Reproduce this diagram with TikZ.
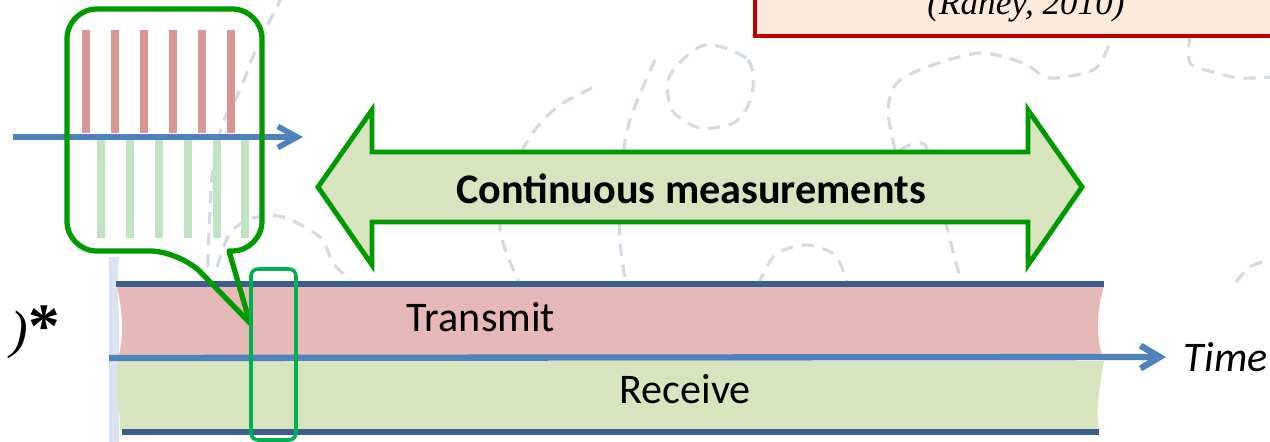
\documentclass[tikz,border=0pt]{standalone}
\usepackage{fontspec}
\setmainfont{Carlito}
\newfontfamily\refserif{Liberation Serif}
\usepackage{xcolor}
\usepackage{tikz}
\usetikzlibrary{arrows.meta}

\definecolor{bandblue}{HTML}{4F81BD}
\definecolor{edgeblue}{HTML}{3B5E8C}
\definecolor{txred}{HTML}{E6B8B7}
\definecolor{rxgreen}{HTML}{D7E4BD}
\definecolor{barred}{HTML}{D99694}
\definecolor{bargreen}{HTML}{C2E2C4}
\definecolor{callgreen}{HTML}{009A00}
\definecolor{boxgreen}{HTML}{00B050}
\definecolor{refred}{HTML}{C00000}
\definecolor{refpeach}{HTML}{FDEADA}
\definecolor{stripblue}{HTML}{DAE3EF}
\definecolor{dashgrey}{HTML}{D2DAE4}

\begin{document}
\begin{tikzpicture}[
  x=0.02cm, y=-0.02cm,
  lbl/.style={inner sep=0pt, font=\fontsize{24}{28}\selectfont},
  bold/.style={lbl, font=\fontsize{24}{28}\selectfont\bfseries},
  ref/.style={inner sep=0pt, font=\refserif\itshape\fontsize{20}{24}\selectfont},
  bgdash/.style={draw=dashgrey, line width=1.8pt, dash pattern=on 7pt off 5pt},
  edge/.style={draw=edgeblue, line width=3pt},
  tarr/.style={draw=bandblue, line width=3.6pt,
    -{Straight Barb[length=11pt, width=13pt]}},
  zarr/.style={draw=bandblue, line width=3.2pt,
    -{Straight Barb[length=11pt, width=12pt]}},
  rbar/.style={draw=barred, line width=4.6pt},
  gbar/.style={draw=bargreen, line width=4.6pt},
  dblarr/.style={draw=callgreen, fill=rxgreen, line width=2.8pt, miter limit=20},
  callout/.style={draw=callgreen, line width=3pt, line join=round},
  zoombox/.style={draw=boxgreen, line width=2pt, rounded corners=4pt}
]
\clip (0,0) rectangle (1270,442);

% faint background sketch
\draw[bgdash] plot[smooth] coordinates {(283,-5) (257,47) (240,90) (223,123) (213,167) (210,213) (208,267) (212,300)};
\draw[bgdash] plot[smooth] coordinates {(217,267) (230,233) (253,218) (283,217) (320,237) (333,263) (350,280)};
\draw[bgdash] plot[smooth cycle] coordinates {(705,45) (748,60) (752,95) (735,122) (700,128) (672,110) (670,75)};
\draw[bgdash] plot[smooth] coordinates {(895,150) (888,110) (897,83) (927,67) (980,53) (1023,63) (1050,78) (1093,70) (1107,50) (1113,30)};
\draw[bgdash] plot[smooth] coordinates {(1190,35) (1190,63) (1213,72) (1240,78) (1272,77)};
\draw[bgdash] plot[smooth] coordinates {(592,88) (560,105) (535,130) (510,175) (500,230) (520,285)};
\draw[bgdash] plot[smooth] coordinates {(655,60) (630,120) (620,180) (620,240) (626,285)};
\draw[bgdash] plot[smooth] coordinates {(758,285) (775,255) (805,245) (835,255) (848,285)};
\draw[bgdash] plot[smooth] coordinates {(900,150) (925,145) (940,200) (950,240) (962,285)};
\draw[bgdash] plot[smooth] coordinates {(1236,282) (1248,268) (1262,262)};

% reference box, top right
\draw[draw=refred, fill=refpeach, line width=2.5pt] (755,-20) rectangle (1290,36);
\node[ref, anchor=base] (raney) at (1026,15) {(Raney, 2010)};

% left edge of the time strip
\fill[stripblue] (109,257) -- (119,257) .. controls (116,290) and (119,300) .. (119,320)
  -- (119,442) -- (109,442) -- cycle;

% transmit and receive bands
\fill[txred] (117,286) .. controls (121,305) and (125,330) .. (119,355)
  -- (1102,355) .. controls (1096,335) and (1096,315) .. (1104,286) -- cycle;
\fill[rxgreen] (118,361) .. controls (114,385) and (121,410) .. (120,431)
  -- (1099,431) .. controls (1095,410) and (1100,385) .. (1104,361) -- cycle;
\draw[edge] (116,284) -- (1104,284);
\draw[edge] (122,432) -- (1099,432);

\coordinate (t0) at (109,358);
\node[lbl, font=\fontsize{24}{28}\selectfont\itshape, anchor=west, inner xsep=10pt]
  (time) at (1166,357) {Time};
\draw[tarr] (t0) -- (time.west);

\node[lbl] (tx) at (481,317) {Transmit};
\node[lbl] (rx) at (685,389) {Receive};

% continuous measurements
\draw[dblarr] (318,187) -- (372,110) -- (372,152) -- (1028,152) -- (1028,110)
  -- (1082,187) -- (1028,265) -- (1028,222) -- (372,222) -- (372,265) -- cycle;
\node[bold] (cm) at (691,189) {Continuous measurements};

% zoom on the pulses
\foreach \x in {86,115,144,173,202,231}
  \draw[rbar] (\x,30) -- (\x,133);
\foreach \x in {101,130,159,188,217,245}
  \draw[gbar] (\x,135) -- (\x,238);
\coordinate (z0) at (13,137);
\coordinate (z1) at (303,137);
\draw[zarr] (z0) -- (z1);
\draw[callout] (250,323) -- (229,251) [rounded corners=17pt] -- (262,251) -- (262,9)
  -- (67,9) -- (67,251) -- (180,251) [sharp corners] -- cycle;
\draw[zoombox] (251,269) rectangle (296,440);

\node[ref, font=\refserif\fontsize{30}{34}\selectfont, anchor=base east]
  (star) at (60,347) {\itshape)\upshape\bfseries\fontsize{36}{40}\selectfont*};
\end{tikzpicture}
\end{document}
